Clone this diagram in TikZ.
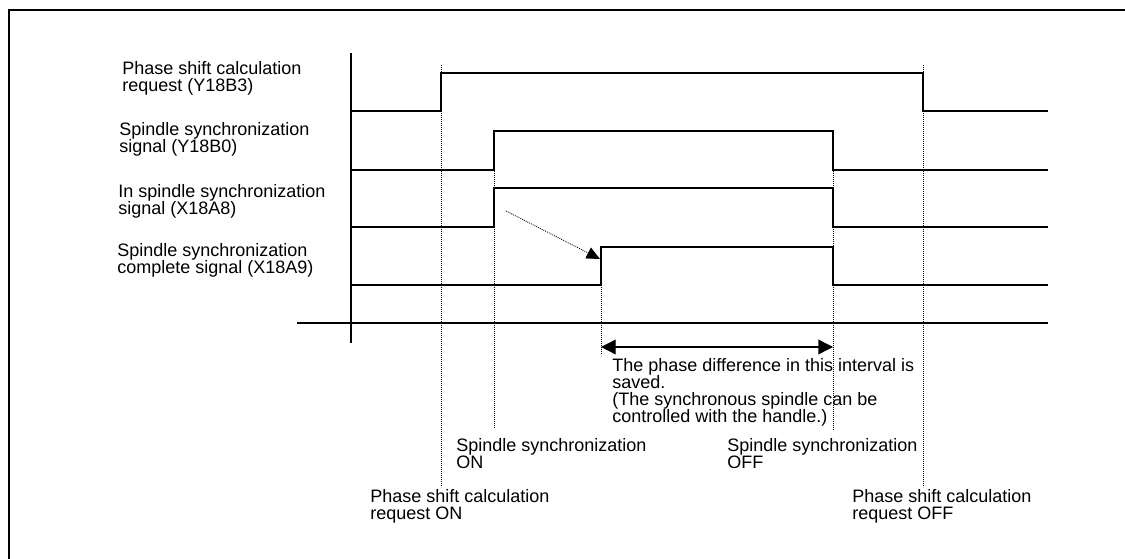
\documentclass[tikz,border=0pt]{standalone}
\usepackage{fontspec}
\setmainfont{Liberation Sans}
\usetikzlibrary{arrows.meta, positioning, calc}

\begin{document}
\begin{tikzpicture}[x=0.75pt, y=-0.75pt,
    wave/.style={line width=1.1pt, line join=miter},
    axis/.style={line width=1.1pt},
    guide/.style={line width=0.6pt, dash pattern=on 0.7pt off 0.8pt},
    label/.style={anchor=base west, inner sep=0pt, align=left,
      font=\fontsize{13.5}{12.75}\selectfont}]
  \useasboundingbox (0,0) rectangle (1125,559);
  \clip (0,0) rectangle (1125,559);
  \draw[line width=2.2pt] (9,10) rectangle (1160,600);

  % time marks
  \coordinate (psOn)  at (441,0);
  \coordinate (ssOn)  at (494,0);
  \coordinate (cmpOn) at (601,0);
  \coordinate (ssOff) at (833,0);
  \coordinate (psOff) at (923,0);

  % axes
  \coordinate (axTop) at (351,53);
  \coordinate (axBot) at (351,343);
  \coordinate (baseL) at (297,323);
  \coordinate (baseR) at (1048,323);
  \draw[axis] (axTop) -- (axBot);
  \draw[axis] (baseL) -- (baseR);

  % signal labels (anchored on last line)
  \node[label] (reqLbl) at (122,92) {Phase shift calculation\\request (Y18B3)};
  \node[label] (syncLbl) at (119,153) {Spindle synchronization\\signal (Y18B0)};
  \node[label] (inLbl) at (118,215) {In spindle synchronization\\signal (X18A8)};
  \node[label] (cmpLbl) at (117,274) {Spindle synchronization\\complete signal (X18A9)};

  % waveforms
  \draw[wave] (351,111) -- (psOn |- 0,111) -- (psOn |- 0,73) -- (psOff |- 0,73)
    -- (psOff |- 0,111) -- (1048,111);
  \draw[wave, line width=1.5pt] (351,170) -- (ssOn |- 0,170) -- (ssOn |- 0,131)
    -- (ssOff |- 0,131) -- (ssOff |- 0,170) -- (1048,170);
  \draw[wave] (351,227) -- (ssOn |- 0,227) -- (ssOn |- 0,188) -- (ssOff |- 0,188)
    -- (ssOff |- 0,227) -- (1048,227);
  \draw[wave] (351,285) -- (cmpOn |- 0,285) -- (cmpOn |- 0,247) -- (ssOff |- 0,247)
    -- (ssOff |- 0,285) -- (1048,285);

  % dotted guides
  \draw[guide] (psOn |- 0,65) -- (psOn |- 0,487);
  \draw[guide] (ssOn |- 0,131) -- (ssOn |- 0,429);
  \draw[guide] (cmpOn |- 0,247) -- (cmpOn |- 0,355);
  \draw[guide] (ssOff |- 0,131) -- (ssOff |- 0,430);
  \draw[guide] (psOff |- 0,65) -- (psOff |- 0,487);

  % dotted arrow from in-sync to complete
  \coordinate (delayA) at (506,211);
  \coordinate (delayB) at (600,259);
  \draw[guide, -{Triangle[length=10pt, width=9pt]}] (delayA) -- (delayB);

  % interval
  \coordinate (ivL) at (cmpOn |- 0,347);
  \coordinate (ivR) at (ssOff |- 0,347);
  \draw[line width=1pt, {Triangle[length=11pt, width=11pt]}-{Triangle[length=11pt, width=11pt]}]
    (ivL) -- (ivR);
  \node[label] (ivNote) at (612,423) {The phase difference in this interval is\\saved.\\(The synchronous spindle can be\\controlled with the handle.)};

  % event labels
  \node[label] (ssOnLbl) at (456,469) {Spindle synchronization\\ON};
  \node[label] (ssOffLbl) at (727,469) {Spindle synchronization\\OFF};
  \node[label] (psOnLbl) at (370,519) {Phase shift calculation\\request ON};
  \node[label] (psOffLbl) at (852,519) {Phase shift calculation\\request OFF};
\end{tikzpicture}
\end{document}
